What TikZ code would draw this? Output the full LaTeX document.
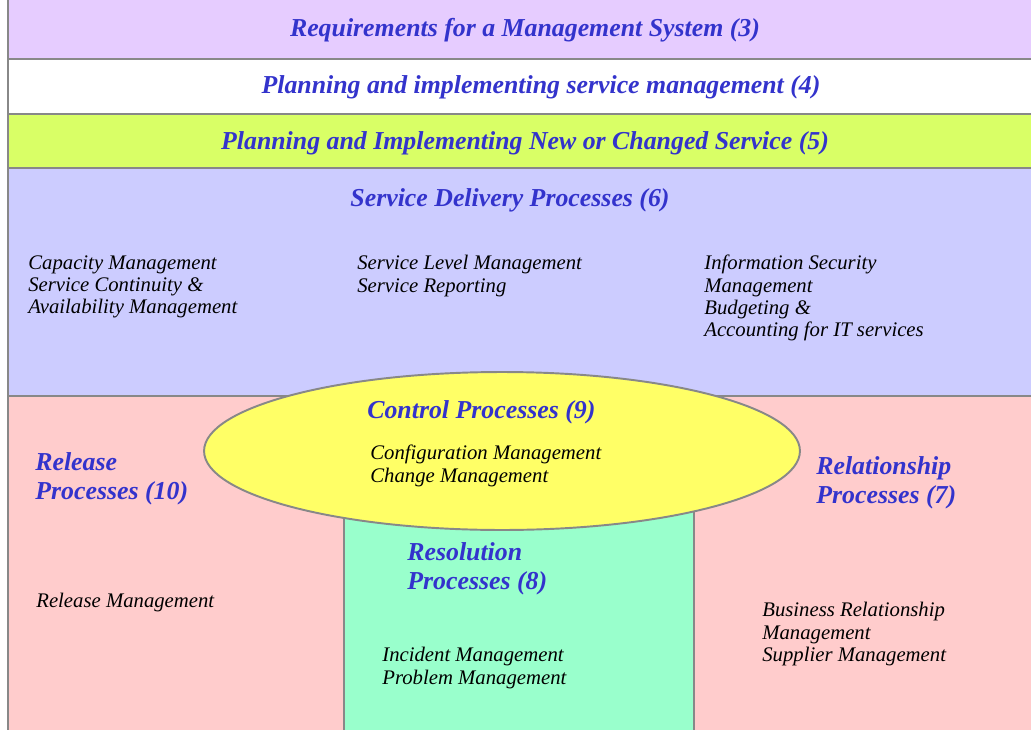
\documentclass[tikz,border=0pt]{standalone}
\usepackage{fontspec}
\setmainfont{Liberation Serif}
\usepackage{tikz}
\usetikzlibrary{shapes.geometric}

\definecolor{reqcol}{HTML}{E6CCFF}
\definecolor{plancol}{HTML}{FFFFFF}
\definecolor{newcol}{HTML}{D9FF66}
\definecolor{sdcol}{HTML}{CCCCFF}
\definecolor{relcol}{HTML}{FFCCCC}
\definecolor{rescol}{HTML}{99FFCC}
\definecolor{ctlcol}{HTML}{FFFF66}
\definecolor{headcol}{HTML}{3333CC}
\definecolor{edgecol}{HTML}{888888}

\tikzset{
	head/.style={text=headcol, inner sep=0pt, font=\fontsize{14.7}{16.5}\selectfont\bfseries\itshape},
	headblock/.style={head, align=left, anchor=north west},
	item/.style={inner sep=0pt, align=left, anchor=north west, font=\fontsize{11.8}{12.7}\selectfont\itshape},
	rule/.style={draw=edgecol, line width=1.1pt}
}

\begin{document}
\begin{tikzpicture}[x=0.02cm, y=-0.02cm]
			\useasboundingbox (0,0) rectangle (1031,730);
			\fill[white] (0,0) rectangle (1031,730);
			% the bands
			\foreach \ytop/\ybot/\col in {0/59/reqcol, 59/114/plancol, 114/168/newcol, 168/396/sdcol, 396/730/relcol} {
				\fill[\col] (8,\ytop) rectangle (1031,\ybot);
			}
			\foreach \yline in {59,114,168,396} {
				\draw[rule] (8,\yline) -- (1031,\yline);
			}
			\draw[rule] (8,0) -- (8,730);
			
			% resolution column and control ellipse
			\fill[rescol] (344,470) rectangle (694,730);
			\draw[rule] (344,470) -- (344,730);
			\draw[rule] (694,470) -- (694,730);
			\node[ellipse, rule, fill=ctlcol, inner sep=0pt, minimum width=11.92cm, minimum height=3.16cm] (ctlshape) at (502,451) {};
			
			\node[head] (req) at (525,30) {Requirements for a Management System (3)};
			\node[head] (plan) at (541,87) {Planning and implementing service management (4)};
			\node[head] (new) at (525,143) {Planning and Implementing New or Changed Service (5)};
			\node[head] (sd) at (510,200) {Service Delivery Processes (6)};
			
			\node[item] (cap) at (28,255) {Capacity Management\\Service Continuity \&\\Availability Management};
			\node[item] (slm) at (357,255) {Service Level Management\\Service Reporting};
			\node[item] (ism) at (704,255) {Information Security\\Management\\Budgeting \&\\Accounting for IT services};
			
			\node[headblock] (ctl) at (367,400) {Control Processes (9)};
			\node[item] (cfg) at (370,445) {Configuration Management\\Change Management};
			
			\node[headblock] (rel) at (35,452) {Release\\Processes (10)};
			\node[item] (relm) at (36,593) {Release Management};
			
			\node[headblock] (rship) at (816,456) {Relationship\\Processes (7)};
			\node[item] (brm) at (762,602) {Business Relationship\\Management\\Supplier Management};
			
			\node[headblock] (res) at (407,542) {Resolution\\Processes (8)};
			\node[item] (inc) at (382,647) {Incident Management\\Problem Management};
		\end{tikzpicture}
\end{document}
